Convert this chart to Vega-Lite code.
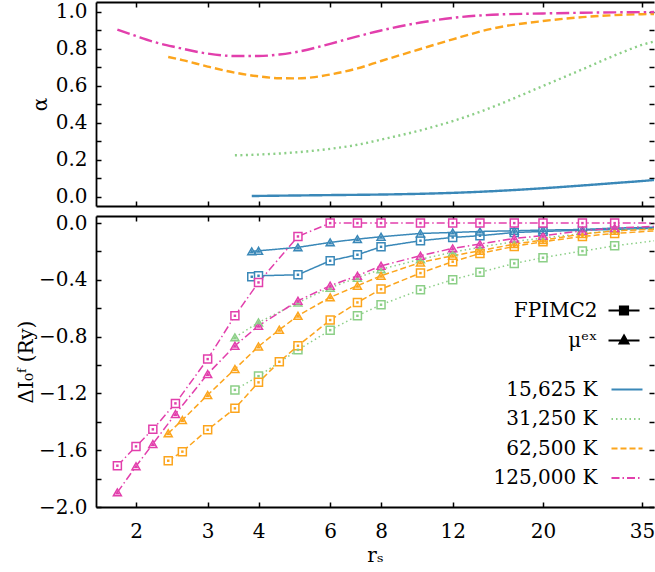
{
  "$schema": "https://vega.github.io/schema/vega-lite/v6.json",
  "background": "white",
  "padding": {"left": 16, "top": 1, "right": 0, "bottom": 0},
  "spacing": 6,
  "datasets": {
    "alpha": [
      {"r": 3.85, "a": 0.005, "T": "15,625 K"}, {"r": 5, "a": 0.008, "T": "15,625 K"}, {"r": 6, "a": 0.01, "T": "15,625 K"}, {"r": 8, "a": 0.013, "T": "15,625 K"}, {"r": 10, "a": 0.017, "T": "15,625 K"}, {"r": 12, "a": 0.022, "T": "15,625 K"}, {"r": 15, "a": 0.031, "T": "15,625 K"}, {"r": 20, "a": 0.047, "T": "15,625 K"}, {"r": 25, "a": 0.062, "T": "15,625 K"}, {"r": 30, "a": 0.075, "T": "15,625 K"}, {"r": 35, "a": 0.086, "T": "15,625 K"}, {"r": 40, "a": 0.097, "T": "15,625 K"},
      {"r": 3.5, "a": 0.225, "T": "31,250 K"}, {"r": 4, "a": 0.229, "T": "31,250 K"}, {"r": 5, "a": 0.242, "T": "31,250 K"}, {"r": 6, "a": 0.26, "T": "31,250 K"}, {"r": 7, "a": 0.282, "T": "31,250 K"}, {"r": 8, "a": 0.31, "T": "31,250 K"}, {"r": 10, "a": 0.36, "T": "31,250 K"}, {"r": 12, "a": 0.41, "T": "31,250 K"}, {"r": 14, "a": 0.46, "T": "31,250 K"}, {"r": 16, "a": 0.51, "T": "31,250 K"}, {"r": 20, "a": 0.6, "T": "31,250 K"}, {"r": 25, "a": 0.69, "T": "31,250 K"}, {"r": 30, "a": 0.765, "T": "31,250 K"}, {"r": 35, "a": 0.822, "T": "31,250 K"}, {"r": 40, "a": 0.855, "T": "31,250 K"},
      {"r": 2.4, "a": 0.757, "T": "62,500 K"}, {"r": 2.6, "a": 0.74, "T": "62,500 K"}, {"r": 3, "a": 0.705, "T": "62,500 K"}, {"r": 3.5, "a": 0.672, "T": "62,500 K"}, {"r": 4, "a": 0.652, "T": "62,500 K"}, {"r": 4.5, "a": 0.642, "T": "62,500 K"}, {"r": 5, "a": 0.641, "T": "62,500 K"}, {"r": 5.5, "a": 0.648, "T": "62,500 K"}, {"r": 6, "a": 0.662, "T": "62,500 K"}, {"r": 7, "a": 0.695, "T": "62,500 K"}, {"r": 8, "a": 0.735, "T": "62,500 K"}, {"r": 10, "a": 0.8, "T": "62,500 K"}, {"r": 12, "a": 0.852, "T": "62,500 K"}, {"r": 15, "a": 0.91, "T": "62,500 K"}, {"r": 20, "a": 0.951, "T": "62,500 K"}, {"r": 25, "a": 0.972, "T": "62,500 K"}, {"r": 30, "a": 0.983, "T": "62,500 K"}, {"r": 35, "a": 0.988, "T": "62,500 K"}, {"r": 40, "a": 0.99, "T": "62,500 K"},
      {"r": 1.8, "a": 0.905, "T": "125,000 K"}, {"r": 2, "a": 0.87, "T": "125,000 K"}, {"r": 2.2, "a": 0.84, "T": "125,000 K"}, {"r": 2.5, "a": 0.81, "T": "125,000 K"}, {"r": 3, "a": 0.775, "T": "125,000 K"}, {"r": 3.5, "a": 0.762, "T": "125,000 K"}, {"r": 4, "a": 0.762, "T": "125,000 K"}, {"r": 4.5, "a": 0.77, "T": "125,000 K"}, {"r": 5, "a": 0.785, "T": "125,000 K"}, {"r": 6, "a": 0.828, "T": "125,000 K"}, {"r": 7, "a": 0.868, "T": "125,000 K"}, {"r": 8, "a": 0.9, "T": "125,000 K"}, {"r": 10, "a": 0.943, "T": "125,000 K"}, {"r": 12, "a": 0.968, "T": "125,000 K"}, {"r": 15, "a": 0.985, "T": "125,000 K"}, {"r": 20, "a": 0.992, "T": "125,000 K"}, {"r": 25, "a": 0.996, "T": "125,000 K"}, {"r": 30, "a": 0.998, "T": "125,000 K"}, {"r": 40, "a": 1.0, "T": "125,000 K"}
    ],
    "dI": [
      {"r": 3.85, "v": -0.378, "T": "15,625 K", "m": "FPIMC2"}, {"r": 4, "v": -0.371, "T": "15,625 K", "m": "FPIMC2"}, {"r": 5, "v": -0.364, "T": "15,625 K", "m": "FPIMC2"}, {"r": 6, "v": -0.265, "T": "15,625 K", "m": "FPIMC2"}, {"r": 7, "v": -0.223, "T": "15,625 K", "m": "FPIMC2"}, {"r": 8, "v": -0.167, "T": "15,625 K", "m": "FPIMC2"}, {"r": 10, "v": -0.124, "T": "15,625 K", "m": "FPIMC2"}, {"r": 12, "v": -0.101, "T": "15,625 K", "m": "FPIMC2"}, {"r": 14, "v": -0.089, "T": "15,625 K", "m": "FPIMC2"}, {"r": 17, "v": -0.066, "T": "15,625 K", "m": "FPIMC2"}, {"r": 20, "v": -0.059, "T": "15,625 K", "m": "FPIMC2"}, {"r": 25, "v": -0.05, "T": "15,625 K", "m": "FPIMC2"}, {"r": 30, "v": -0.045, "T": "15,625 K", "m": "FPIMC2"}, {"r": 40, "v": -0.035, "T": "15,625 K", "m": "FPIMC2"},
      {"r": 3.85, "v": -0.199, "T": "15,625 K", "m": "μᵉˣ"}, {"r": 4, "v": -0.195, "T": "15,625 K", "m": "μᵉˣ"}, {"r": 5, "v": -0.171, "T": "15,625 K", "m": "μᵉˣ"}, {"r": 6, "v": -0.136, "T": "15,625 K", "m": "μᵉˣ"}, {"r": 7, "v": -0.113, "T": "15,625 K", "m": "μᵉˣ"}, {"r": 8, "v": -0.096, "T": "15,625 K", "m": "μᵉˣ"}, {"r": 10, "v": -0.073, "T": "15,625 K", "m": "μᵉˣ"}, {"r": 12, "v": -0.066, "T": "15,625 K", "m": "μᵉˣ"}, {"r": 14, "v": -0.059, "T": "15,625 K", "m": "μᵉˣ"}, {"r": 17, "v": -0.054, "T": "15,625 K", "m": "μᵉˣ"}, {"r": 20, "v": -0.049, "T": "15,625 K", "m": "μᵉˣ"}, {"r": 25, "v": -0.045, "T": "15,625 K", "m": "μᵉˣ"}, {"r": 30, "v": -0.035, "T": "15,625 K", "m": "μᵉˣ"}, {"r": 40, "v": -0.028, "T": "15,625 K", "m": "μᵉˣ"},
      {"r": 3.5, "v": -1.175, "T": "31,250 K", "m": "FPIMC2"}, {"r": 4, "v": -1.078, "T": "31,250 K", "m": "FPIMC2"}, {"r": 5, "v": -0.893, "T": "31,250 K", "m": "FPIMC2"}, {"r": 6, "v": -0.754, "T": "31,250 K", "m": "FPIMC2"}, {"r": 7, "v": -0.653, "T": "31,250 K", "m": "FPIMC2"}, {"r": 8, "v": -0.575, "T": "31,250 K", "m": "FPIMC2"}, {"r": 10, "v": -0.47, "T": "31,250 K", "m": "FPIMC2"}, {"r": 12, "v": -0.399, "T": "31,250 K", "m": "FPIMC2"}, {"r": 14, "v": -0.347, "T": "31,250 K", "m": "FPIMC2"}, {"r": 17, "v": -0.284, "T": "31,250 K", "m": "FPIMC2"}, {"r": 20, "v": -0.244, "T": "31,250 K", "m": "FPIMC2"}, {"r": 25, "v": -0.197, "T": "31,250 K", "m": "FPIMC2"}, {"r": 30, "v": -0.16, "T": "31,250 K", "m": "FPIMC2"}, {"r": 40, "v": -0.115, "T": "31,250 K", "m": "FPIMC2"},
      {"r": 3.5, "v": -0.805, "T": "31,250 K", "m": "μᵉˣ"}, {"r": 4, "v": -0.7, "T": "31,250 K", "m": "μᵉˣ"}, {"r": 5, "v": -0.56, "T": "31,250 K", "m": "μᵉˣ"}, {"r": 6, "v": -0.455, "T": "31,250 K", "m": "μᵉˣ"}, {"r": 7, "v": -0.385, "T": "31,250 K", "m": "μᵉˣ"}, {"r": 8, "v": -0.325, "T": "31,250 K", "m": "μᵉˣ"}, {"r": 10, "v": -0.255, "T": "31,250 K", "m": "μᵉˣ"}, {"r": 12, "v": -0.205, "T": "31,250 K", "m": "μᵉˣ"}, {"r": 14, "v": -0.17, "T": "31,250 K", "m": "μᵉˣ"}, {"r": 17, "v": -0.13, "T": "31,250 K", "m": "μᵉˣ"}, {"r": 20, "v": -0.105, "T": "31,250 K", "m": "μᵉˣ"}, {"r": 25, "v": -0.075, "T": "31,250 K", "m": "μᵉˣ"}, {"r": 30, "v": -0.055, "T": "31,250 K", "m": "μᵉˣ"}, {"r": 40, "v": -0.035, "T": "31,250 K", "m": "μᵉˣ"},
      {"r": 2.4, "v": -1.674, "T": "62,500 K", "m": "FPIMC2"}, {"r": 2.6, "v": -1.61, "T": "62,500 K", "m": "FPIMC2"}, {"r": 3, "v": -1.456, "T": "62,500 K", "m": "FPIMC2"}, {"r": 3.5, "v": -1.305, "T": "62,500 K", "m": "FPIMC2"}, {"r": 4, "v": -1.122, "T": "62,500 K", "m": "FPIMC2"}, {"r": 4.5, "v": -0.977, "T": "62,500 K", "m": "FPIMC2"}, {"r": 5, "v": -0.864, "T": "62,500 K", "m": "FPIMC2"}, {"r": 6, "v": -0.683, "T": "62,500 K", "m": "FPIMC2"}, {"r": 7, "v": -0.559, "T": "62,500 K", "m": "FPIMC2"}, {"r": 8, "v": -0.465, "T": "62,500 K", "m": "FPIMC2"}, {"r": 10, "v": -0.352, "T": "62,500 K", "m": "FPIMC2"}, {"r": 12, "v": -0.272, "T": "62,500 K", "m": "FPIMC2"}, {"r": 14, "v": -0.214, "T": "62,500 K", "m": "FPIMC2"}, {"r": 17, "v": -0.164, "T": "62,500 K", "m": "FPIMC2"}, {"r": 20, "v": -0.131, "T": "62,500 K", "m": "FPIMC2"}, {"r": 25, "v": -0.094, "T": "62,500 K", "m": "FPIMC2"}, {"r": 30, "v": -0.073, "T": "62,500 K", "m": "FPIMC2"}, {"r": 40, "v": -0.05, "T": "62,500 K", "m": "FPIMC2"},
      {"r": 2.4, "v": -1.481, "T": "62,500 K", "m": "μᵉˣ"}, {"r": 2.6, "v": -1.387, "T": "62,500 K", "m": "μᵉˣ"}, {"r": 3, "v": -1.211, "T": "62,500 K", "m": "μᵉˣ"}, {"r": 3.5, "v": -1.028, "T": "62,500 K", "m": "μᵉˣ"}, {"r": 4, "v": -0.869, "T": "62,500 K", "m": "μᵉˣ"}, {"r": 4.5, "v": -0.751, "T": "62,500 K", "m": "μᵉˣ"}, {"r": 5, "v": -0.653, "T": "62,500 K", "m": "μᵉˣ"}, {"r": 6, "v": -0.523, "T": "62,500 K", "m": "μᵉˣ"}, {"r": 7, "v": -0.441, "T": "62,500 K", "m": "μᵉˣ"}, {"r": 8, "v": -0.371, "T": "62,500 K", "m": "μᵉˣ"}, {"r": 10, "v": -0.277, "T": "62,500 K", "m": "μᵉˣ"}, {"r": 12, "v": -0.23, "T": "62,500 K", "m": "μᵉˣ"}, {"r": 14, "v": -0.195, "T": "62,500 K", "m": "μᵉˣ"}, {"r": 17, "v": -0.148, "T": "62,500 K", "m": "μᵉˣ"}, {"r": 20, "v": -0.12, "T": "62,500 K", "m": "μᵉˣ"}, {"r": 25, "v": -0.077, "T": "62,500 K", "m": "μᵉˣ"}, {"r": 30, "v": -0.054, "T": "62,500 K", "m": "μᵉˣ"}, {"r": 40, "v": -0.04, "T": "62,500 K", "m": "μᵉˣ"},
      {"r": 1.8, "v": -1.709, "T": "125,000 K", "m": "FPIMC2"}, {"r": 2, "v": -1.573, "T": "125,000 K", "m": "FPIMC2"}, {"r": 2.2, "v": -1.453, "T": "125,000 K", "m": "FPIMC2"}, {"r": 2.5, "v": -1.27, "T": "125,000 K", "m": "FPIMC2"}, {"r": 3, "v": -0.958, "T": "125,000 K", "m": "FPIMC2"}, {"r": 3.5, "v": -0.653, "T": "125,000 K", "m": "FPIMC2"}, {"r": 4, "v": -0.418, "T": "125,000 K", "m": "FPIMC2"}, {"r": 5, "v": -0.094, "T": "125,000 K", "m": "FPIMC2"}, {"r": 6, "v": 0, "T": "125,000 K", "m": "FPIMC2"}, {"r": 7, "v": 0, "T": "125,000 K", "m": "FPIMC2"}, {"r": 8, "v": 0, "T": "125,000 K", "m": "FPIMC2"}, {"r": 10, "v": 0, "T": "125,000 K", "m": "FPIMC2"}, {"r": 12, "v": 0, "T": "125,000 K", "m": "FPIMC2"}, {"r": 14, "v": 0, "T": "125,000 K", "m": "FPIMC2"}, {"r": 17, "v": 0, "T": "125,000 K", "m": "FPIMC2"}, {"r": 20, "v": 0, "T": "125,000 K", "m": "FPIMC2"}, {"r": 25, "v": 0, "T": "125,000 K", "m": "FPIMC2"}, {"r": 30, "v": 0, "T": "125,000 K", "m": "FPIMC2"}, {"r": 40, "v": 0, "T": "125,000 K", "m": "FPIMC2"},
      {"r": 1.8, "v": -1.897, "T": "125,000 K", "m": "μᵉˣ"}, {"r": 2, "v": -1.713, "T": "125,000 K", "m": "μᵉˣ"}, {"r": 2.2, "v": -1.556, "T": "125,000 K", "m": "μᵉˣ"}, {"r": 2.5, "v": -1.345, "T": "125,000 K", "m": "μᵉˣ"}, {"r": 3, "v": -1.063, "T": "125,000 K", "m": "μᵉˣ"}, {"r": 3.5, "v": -0.864, "T": "125,000 K", "m": "μᵉˣ"}, {"r": 4, "v": -0.723, "T": "125,000 K", "m": "μᵉˣ"}, {"r": 5, "v": -0.547, "T": "125,000 K", "m": "μᵉˣ"}, {"r": 6, "v": -0.441, "T": "125,000 K", "m": "μᵉˣ"}, {"r": 7, "v": -0.371, "T": "125,000 K", "m": "μᵉˣ"}, {"r": 8, "v": -0.301, "T": "125,000 K", "m": "μᵉˣ"}, {"r": 10, "v": -0.23, "T": "125,000 K", "m": "μᵉˣ"}, {"r": 12, "v": -0.178, "T": "125,000 K", "m": "μᵉˣ"}, {"r": 14, "v": -0.148, "T": "125,000 K", "m": "μᵉˣ"}, {"r": 17, "v": -0.108, "T": "125,000 K", "m": "μᵉˣ"}, {"r": 20, "v": -0.089, "T": "125,000 K", "m": "μᵉˣ"}, {"r": 25, "v": -0.054, "T": "125,000 K", "m": "μᵉˣ"}, {"r": 30, "v": -0.035, "T": "125,000 K", "m": "μᵉˣ"}, {"r": 40, "v": -0.02, "T": "125,000 K", "m": "μᵉˣ"}
    ]
  },
  "resolve": {"scale": {"strokeDash": "independent"}, "legend": {"color": "independent", "strokeDash": "independent", "shape": "independent", "opacity": "independent"}},
  "vconcat": [
    {
      "width": 558,
      "height": 204,
      "data": {"name": "alpha"},
      "layer": [
        {
          "transform": [{"filter": "datum.T == '15,625 K' || datum.T == '31,250 K'"}],
          "mark": {"type": "line", "strokeWidth": 2.4, "clip": true, "interpolate": "monotone"},
          "encoding": {
            "x": {"field": "r", "type": "quantitative", "scale": {"type": "log", "domain": [1.595, 37.48], "nice": false, "zero": false}, "axis": {"orient": "bottom", "values": [2, 3, 4, 6, 8, 12, 20, 35], "labels": false, "title": null}},
            "y": {"field": "a", "type": "quantitative", "scale": {"domain": [-0.049, 1.054], "nice": false, "zero": false}, "axis": {"orient": "left", "values": [0, 0.1, 0.2, 0.3, 0.4, 0.5, 0.6, 0.7, 0.8, 0.9, 1.0], "format": ".1f", "labelExpr": "round(datum.value*10) % 2 == 0 ? datum.label : ''", "title": "α", "titlePadding": 5}},
            "color": {"field": "T", "type": "nominal", "scale": {"domain": ["15,625 K", "31,250 K", "62,500 K", "125,000 K"], "range": ["#3a88b8", "#8ccf87", "#fca51d", "#e23fac"]}, "legend": null},
            "strokeDash": {"field": "T", "type": "nominal", "scale": {"domain": ["15,625 K", "31,250 K", "62,500 K", "125,000 K"], "range": [[1, 0], [2, 3.5], [8, 4], [13, 4, 2.5, 4]]}, "legend": null}
          }
        },
        {
          "transform": [{"filter": "datum.T == '62,500 K' || datum.T == '125,000 K'"}],
          "mark": {"type": "line", "strokeWidth": 2.4, "clip": true, "interpolate": "monotone"},
          "encoding": {
            "x": {"field": "r", "type": "quantitative", "scale": {"type": "log", "domain": [1.595, 37.48], "nice": false, "zero": false}, "axis": {"orient": "top", "values": [2, 3, 4, 6, 8, 12, 20, 35], "labels": false, "title": null}},
            "y": {"field": "a", "type": "quantitative", "scale": {"domain": [-0.049, 1.054], "nice": false, "zero": false}, "axis": {"orient": "right", "values": [0, 0.1, 0.2, 0.3, 0.4, 0.5, 0.6, 0.7, 0.8, 0.9, 1.0], "labels": false, "domain": false, "title": null}},
            "color": {"field": "T", "type": "nominal", "legend": null},
            "strokeDash": {"field": "T", "type": "nominal", "legend": null}
          }
        }
      ],
      "resolve": {"axis": {"x": "independent", "y": "independent"}}
    },
    {
      "width": 558,
      "height": 291,
      "data": {"name": "dI"},
      "layer": [
        {
          "mark": {"type": "line", "strokeWidth": 1.5, "clip": true},
          "encoding": {
            "x": {"field": "r", "type": "quantitative", "scale": {"type": "log", "domain": [1.595, 37.48], "nice": false, "zero": false}, "axis": {"orient": "bottom", "values": [2, 3, 4, 6, 8, 12, 20, 35], "format": "d", "labelFlush": false, "labelPadding": 19, "title": "rₛ", "titlePadding": 4}},
            "y": {"field": "v", "type": "quantitative", "scale": {"domain": [-2.0, 0.05], "nice": false, "zero": false}, "axis": {"orient": "left", "values": [0, -0.2, -0.4, -0.6, -0.8, -1.0, -1.2, -1.4, -1.6, -1.8, -2.0], "format": ".1f", "labelExpr": "abs(round(datum.value*10)) % 4 == 0 ? datum.label : ''", "title": "ΔI₀ᶠ (Ry)", "titlePadding": 2}},
            "color": {"field": "T", "type": "nominal", "scale": {"domain": ["15,625 K", "31,250 K", "62,500 K", "125,000 K"], "range": ["#3a88b8", "#8ccf87", "#fca51d", "#e23fac"]},
              "legend": {"title": null, "orient": "none", "legendX": 470, "legendY": 157, "symbolType": "stroke", "symbolSize": 961, "symbolStrokeWidth": 2, "symbolOffset": 44.5, "labelOffset": -46, "labelAlign": "right", "labelFontSize": 20, "labelFont": "DejaVu Serif", "labelColor": "black", "rowPadding": 2.5, "padding": 0}},
            "strokeDash": {"field": "T", "type": "nominal", "scale": {"domain": ["15,625 K", "31,250 K", "62,500 K", "125,000 K"], "range": [[1, 0], [1.5, 3], [6, 3], [8, 3, 1.5, 3]]},
              "legend": {"title": null, "orient": "none", "legendX": 470, "legendY": 157, "symbolType": "stroke", "symbolSize": 961, "symbolStrokeWidth": 2, "symbolOffset": 44.5, "labelOffset": -46, "labelAlign": "right", "labelFontSize": 20, "labelFont": "DejaVu Serif", "labelColor": "black", "rowPadding": 2.5, "padding": 0}},
            "detail": {"field": "m"}
          }
        },
        {
          "mark": {"type": "point", "fill": "white", "fillOpacity": 1, "strokeWidth": 1.5, "size": 64, "opacity": 1, "clip": true},
          "encoding": {
            "x": {"field": "r", "type": "quantitative", "scale": {"type": "log", "domain": [1.595, 37.48], "nice": false, "zero": false}, "axis": {"orient": "top", "values": [2, 3, 4, 6, 8, 12, 20, 35], "labels": false, "title": null}},
            "y": {"field": "v", "type": "quantitative", "scale": {"domain": [-2.0, 0.05], "nice": false, "zero": false}, "axis": {"orient": "right", "values": [0, -0.2, -0.4, -0.6, -0.8, -1.0, -1.2, -1.4, -1.6, -1.8, -2.0], "labels": false, "domain": false, "title": null}},
            "stroke": {"field": "T", "type": "nominal", "scale": {"domain": ["15,625 K", "31,250 K", "62,500 K", "125,000 K"], "range": ["#3a88b8", "#8ccf87", "#fca51d", "#e23fac"]}, "legend": null},
            "shape": {"field": "m", "type": "nominal", "scale": {"domain": ["FPIMC2", "μᵉˣ"], "range": ["square", "triangle-up"]}, "legend": null}
          }
        },
        {
          "transform": [{"filter": "datum.m == 'FPIMC2'"}],
          "mark": {"type": "point", "shape": "square", "filled": true, "size": 6, "clip": true},
          "encoding": {
            "x": {"field": "r", "type": "quantitative", "axis": null},
            "y": {"field": "v", "type": "quantitative", "axis": null},
            "fill": {"field": "T", "type": "nominal", "scale": {"domain": ["15,625 K", "31,250 K", "62,500 K", "125,000 K"], "range": ["#3a88b8", "#8ccf87", "#fca51d", "#e23fac"]}, "legend": null},
            "opacity": {"field": "m", "type": "nominal", "scale": {"domain": ["FPIMC2"], "range": [1]},
              "legend": {"title": null, "orient": "none", "legendX": 470, "legendY": 78, "symbolType": "M-1,0L1,0M-0.27,-0.27L0.27,-0.27L0.27,0.27L-0.27,0.27Z", "symbolSize": 961, "symbolFillColor": "black", "symbolStrokeColor": "black", "symbolStrokeWidth": 1.8, "symbolOffset": 41.5, "labelOffset": -43, "labelAlign": "right", "labelFontSize": 20, "labelFont": "DejaVu Serif", "labelColor": "black", "rowPadding": 2.5, "padding": 0}}
          }
        },
        {
          "transform": [{"filter": "datum.m != 'FPIMC2'"}],
          "mark": {"type": "point", "shape": "triangle-up", "filled": true, "size": 22, "clip": true},
          "encoding": {
            "x": {"field": "r", "type": "quantitative", "axis": null},
            "y": {"field": "v", "type": "quantitative", "axis": null},
            "fill": {"field": "T", "type": "nominal", "legend": null},
            "opacity": {"field": "m", "type": "nominal", "scale": {"domain": ["μᵉˣ"], "range": [1]},
              "legend": {"title": null, "orient": "none", "legendX": 470, "legendY": 108, "symbolType": "M-1,0L1,0M0,-0.34L0.3,0.2L-0.3,0.2Z", "symbolSize": 961, "symbolFillColor": "black", "symbolStrokeColor": "black", "symbolStrokeWidth": 1.8, "symbolOffset": 41.5, "labelOffset": -43, "labelAlign": "right", "labelFontSize": 20, "labelFont": "DejaVu Serif", "labelColor": "black", "rowPadding": 2.5, "padding": 0}}
          }
        }
      ],
      "resolve": {"axis": {"x": "independent", "y": "independent"}, "scale": {"opacity": "independent"}, "legend": {"opacity": "independent"}}
    }
  ],
  "config": {
    "font": "DejaVu Serif",
    "view": {"stroke": null},
    "axis": {
      "labelFont": "DejaVu Serif", "labelFontSize": 20, "labelColor": "black",
      "titleFont": "DejaVu Serif", "titleFontSize": 20, "titleFontWeight": "normal", "titleColor": "black",
      "domainColor": "black", "domainWidth": 1.8, "tickColor": "black", "tickWidth": 1.5, "tickSize": -5,
      "grid": false, "labelPadding": 14
    },
    "legend": {"labelFont": "DejaVu Serif", "labelFontSize": 20, "labelColor": "black"}
  }
}
